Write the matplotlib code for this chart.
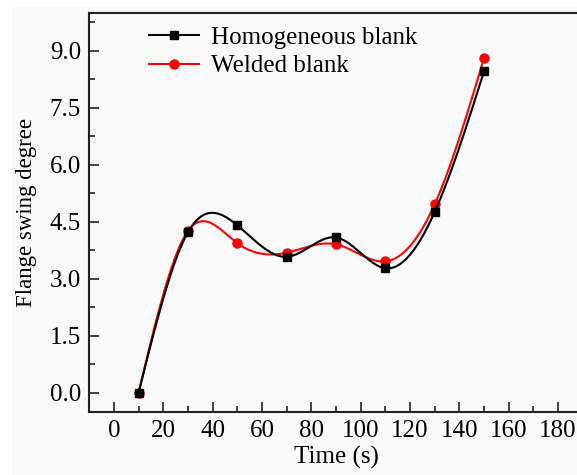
import numpy as np
import matplotlib
matplotlib.use("Agg")
import matplotlib.pyplot as plt
from matplotlib.ticker import MultipleLocator
from matplotlib.patches import Rectangle

plt.rcParams['font.family'] = ['Liberation Serif', 'DejaVu Serif']

time_s = [10, 30, 50, 70, 90, 110, 130, 150]
homogeneous = [0.0, 4.22, 4.40, 3.57, 4.08, 3.27, 4.75, 8.45]
welded = [0.0, 4.25, 3.93, 3.68, 3.90, 3.45, 4.95, 8.80]
labels = ["Homogeneous blank", "Welded blank"]
xlabel = "Time (s)"
ylabel = "Flange swing degree"


def natural_spline(x, y, n=400):
    x = np.asarray(x, float)
    y = np.asarray(y, float)
    m = len(x)
    h = np.diff(x)
    A = np.zeros((m, m))
    b = np.zeros(m)
    A[0, 0] = 1
    A[-1, -1] = 1
    for i in range(1, m - 1):
        A[i, i - 1] = h[i - 1]
        A[i, i] = 2 * (h[i - 1] + h[i])
        A[i, i + 1] = h[i]
        b[i] = 3 * ((y[i + 1] - y[i]) / h[i] - (y[i] - y[i - 1]) / h[i - 1])
    c = np.linalg.solve(A, b)
    xs = np.linspace(x[0], x[-1], n)
    idx = np.clip(np.searchsorted(x, xs) - 1, 0, m - 2)
    dx = xs - x[idx]
    hi = h[idx]
    bi = (y[idx + 1] - y[idx]) / hi - hi * (2 * c[idx] + c[idx + 1]) / 3
    di = (c[idx + 1] - c[idx]) / (3 * hi)
    ys = y[idx] + bi * dx + c[idx] * dx ** 2 + di * dx ** 3
    return xs, ys


W, H = 577, 475
fig = plt.figure(figsize=(W / 100, H / 100), dpi=100, facecolor='#fafafa')
fig.patches.append(Rectangle((0, 1 - 7 / H), 1, 7 / H, transform=fig.transFigure,
                             facecolor='white', edgecolor='none', zorder=-1))
fig.patches.append(Rectangle((0, 0), 12 / W, 1, transform=fig.transFigure,
                             facecolor='white', edgecolor='none', zorder=-1))

left, right, bottom, top = 89.3, 582.7, 411.5, 12.5
ax = fig.add_axes([left / W, 1 - bottom / H, (right - left) / W, (bottom - top) / H])
ax.set_facecolor('#fafafa')

series = [(welded, 'red', 'o', 6.5, 2), (homogeneous, 'black', 's', 6, 4)]
for ys, col, mk, ms, z in series:
    sx, sy = natural_spline(time_s, ys)
    ax.plot(sx, sy, color=col, lw=1.5, zorder=z)
    ax.plot(time_s, ys, linestyle='none', marker=mk, ms=ms, color=col, zorder=z + 1)

h1, = ax.plot([], [], color='black', lw=1.5, marker='s', ms=6)
h2, = ax.plot([], [], color='red', lw=1.5, marker='o', ms=6.5)

ax.set_xlim(-10, 190)
ax.set_ylim(-0.5, 10)
ax.xaxis.set_major_locator(MultipleLocator(20))
ax.xaxis.set_minor_locator(MultipleLocator(10))
ax.yaxis.set_major_locator(MultipleLocator(1.5))
ax.yaxis.set_minor_locator(MultipleLocator(0.75))
ax.yaxis.set_major_formatter(matplotlib.ticker.FormatStrFormatter('%.1f'))
ax.tick_params(which='both', direction='in', top=False, right=False, labelsize=18,
               width=1.2, color='#222222')
ax.tick_params(which='major', length=7, pad=6)
ax.tick_params(which='minor', length=4)
for s in ax.spines.values():
    s.set_linewidth(1.5)
    s.set_color('#222222')

ax.set_xlabel(xlabel, fontsize=18, labelpad=3)
ax.set_ylabel(ylabel, fontsize=16.5, labelpad=9)

leg = ax.legend([h1, h2], labels, loc='upper left', bbox_to_anchor=(0.115, 0.972),
                frameon=False, fontsize=18, handlelength=2.0, handletextpad=0.5,
                labelspacing=0.25, borderpad=0.1, borderaxespad=0)

fig.savefig('out.png', dpi=100, facecolor=fig.get_facecolor())
